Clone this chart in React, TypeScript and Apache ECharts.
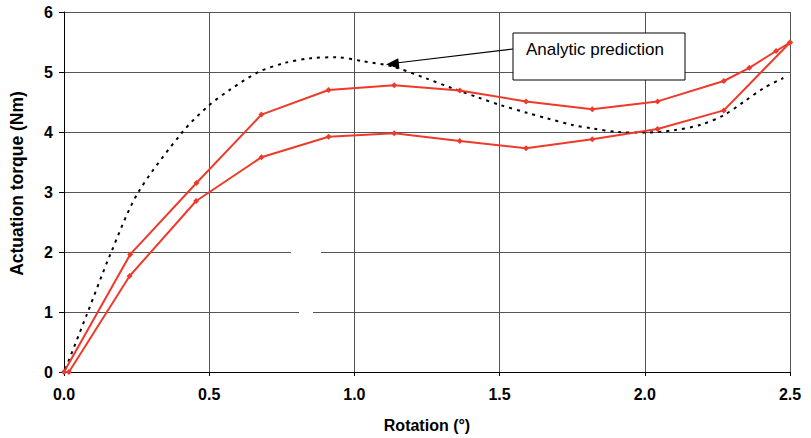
import React, { useEffect, useRef } from "react";
import * as echarts from "echarts";

const upperX = [0, 0.228, 0.456, 0.68, 0.911, 1.137, 1.363, 1.591, 1.819, 2.044, 2.272, 2.36, 2.452, 2.5];
const upperY = [0, 1.96, 3.15, 4.29, 4.7, 4.78, 4.69, 4.51, 4.38, 4.51, 4.85, 5.07, 5.35, 5.49];
const lowerX = [0.017, 0.226, 0.455, 0.68, 0.911, 1.137, 1.363, 1.591, 1.819, 2.044, 2.272, 2.5];
const lowerY = [0, 1.6, 2.85, 3.58, 3.92, 3.98, 3.85, 3.73, 3.88, 4.05, 4.36, 5.49];
const analyticX = [0.005, 0.078, 0.161, 0.254, 0.408, 0.496, 0.573, 0.67, 0.76, 0.85, 0.938, 1.03, 1.132, 1.246, 1.337, 1.429, 1.502, 1.594, 1.662, 1.748, 1.819, 1.907, 1.998, 2.1, 2.192, 2.272, 2.34, 2.409, 2.477];
const analyticY = [0.05, 0.95, 1.98, 2.98, 4.0, 4.43, 4.71, 5.0, 5.15, 5.23, 5.245, 5.18, 5.09, 4.895, 4.73, 4.57, 4.45, 4.32, 4.23, 4.12, 4.06, 4.0, 3.99, 4.03, 4.12, 4.28, 4.5, 4.73, 4.9];
const annotationText = "Analytic prediction";
const xAxisName = "Rotation (°)";
const yAxisName = "Actuation torque (Nm)";

const zip = (xs: number[], ys: number[]) => xs.map((x, i) => [x, ys[i]]);

export default function App() {
  const ref = useRef<HTMLDivElement>(null);
  useEffect(() => {
    if (!ref.current) return;
    const chart = echarts.init(ref.current, null, { renderer: "svg" });
    const font = "'Liberation Sans', Arial, sans-serif";
    const red = "#ee3a2a";
    chart.setOption({
      animation: false,
      backgroundColor: "#ffffff",
      textStyle: { fontFamily: font },
      grid: { left: 59, right: 21, top: 12, bottom: 66 },
      xAxis: {
        type: "value",
        min: 0,
        max: 2.5,
        interval: 0.5,
        name: xAxisName,
        nameLocation: "middle",
        nameGap: 45,
        nameTextStyle: { fontFamily: font, fontWeight: "bold", fontSize: 16, color: "#000" },
        axisLine: { lineStyle: { color: "#000", width: 1 } },
        axisTick: { show: true, length: 4, lineStyle: { color: "#000" } },
        axisLabel: {
          fontFamily: font,
          fontWeight: "bold",
          fontSize: 16,
          color: "#000",
          margin: 14,
          formatter: (v: number) => v.toFixed(1),
        },
        splitLine: { show: true, lineStyle: { color: "#555", width: 1 } },
      },
      yAxis: {
        type: "value",
        min: 0,
        max: 6,
        interval: 1,
        name: yAxisName,
        nameLocation: "middle",
        nameGap: 38,
        nameTextStyle: {
          fontFamily: font,
          fontWeight: "bold",
          fontSize: 17.5,
          color: "#000",
          padding: [0, 0, 0, 17],
        },
        axisLine: { show: true, lineStyle: { color: "#000", width: 1 } },
        axisTick: { show: true, length: 5, lineStyle: { color: "#000" } },
        axisLabel: { fontFamily: font, fontWeight: "bold", fontSize: 16, color: "#000", margin: 11 },
        splitLine: { show: true, lineStyle: { color: "#555", width: 1 } },
      },
      series: [
        {
          type: "line",
          data: zip(analyticX, analyticY),
          smooth: 0.3,
          showSymbol: false,
          symbol: "none",
          lineStyle: { color: "#000", width: 2, type: [3, 5] },
          z: 3,
        },
        {
          type: "line",
          data: zip(upperX, upperY),
          symbol: "diamond",
          symbolSize: 6,
          itemStyle: { color: red },
          lineStyle: { color: red, width: 2 },
          z: 4,
        },
        {
          type: "line",
          data: zip(lowerX, lowerY),
          symbol: "diamond",
          symbolSize: 6,
          itemStyle: { color: red },
          lineStyle: { color: red, width: 2 },
          z: 4,
        },
      ],
      graphic: [
        { type: "rect", shape: { x: 291, y: 249, width: 30, height: 6 }, style: { fill: "#fff" }, z: 1 },
        { type: "rect", shape: { x: 299, y: 309, width: 14, height: 6 }, style: { fill: "#fff" }, z: 1 },
        {
          type: "line",
          shape: { x1: 513, y1: 49, x2: 396, y2: 63 },
          style: { stroke: "#000", lineWidth: 1.2 },
          z: 10,
        },
        {
          type: "polygon",
          shape: { points: [[386, 64.5], [399.5, 68.8], [398.2, 58.2]] },
          style: { fill: "#000" },
          z: 10,
        },
        {
          type: "rect",
          shape: { x: 513, y: 33, width: 172, height: 47 },
          style: { fill: "#fff", stroke: "#000", lineWidth: 1 },
          z: 10,
        },
        {
          type: "text",
          x: 526,
          y: 49,
          style: {
            text: annotationText,
            fontFamily: font,
            fontSize: 17,
            fill: "#000",
            verticalAlign: "middle",
            align: "left",
          },
          z: 11,
        },
      ],
    });
    return () => chart.dispose();
  }, []);
  return <div ref={ref} style={{ position: "fixed", left: 0, top: 0, width: 811, height: 438 }} />;
}
